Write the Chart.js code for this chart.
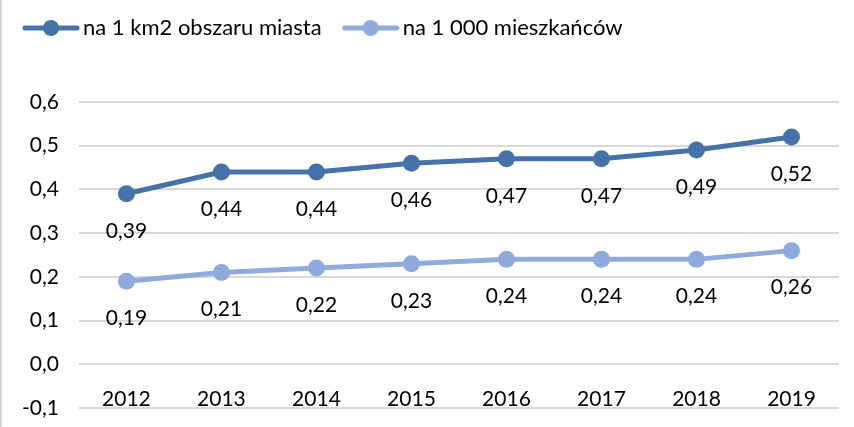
<!DOCTYPE html>
<html>
<head>
<meta charset="utf-8">
<script src="https://cdn.jsdelivr.net/npm/chart.js@4"></script>
<style>
  html, body { margin: 0; padding: 0; background: #fff; }
  #wrap { position: relative; width: 854px; height: 427px; border-left: 2px solid #d9d9d9; box-sizing: border-box; }
</style>
</head>
<body>
<div id="wrap"><canvas id="chart"></canvas></div>
<script>
const years = ['2012', '2013', '2014', '2015', '2016', '2017', '2018', '2019'];
const perKm2 = [0.39, 0.44, 0.44, 0.46, 0.47, 0.47, 0.49, 0.52];
const perThousand = [0.19, 0.21, 0.22, 0.23, 0.24, 0.24, 0.24, 0.26];
const seriesNames = ['na 1 km2 obszaru miasta', 'na 1 000 mieszkańców'];
const yTickLabels = ['-0,1', '0,0', '0,1', '0,2', '0,3', '0,4', '0,5', '0,6'];

const FONT = 'Lato';
const dark = '#4672aa';
const light = '#8faadc';

// legend marker: short thick line with a dot in the middle
function legendMarker(color) {
    const c = document.createElement('canvas');
    c.width = 58;
    c.height = 18;
    const ctx = c.getContext('2d');
    ctx.strokeStyle = color;
    ctx.lineWidth = 5;
    ctx.lineCap = 'round';
    ctx.beginPath();
    ctx.moveTo(3, 9);
    ctx.lineTo(55, 9);
    ctx.stroke();
    ctx.fillStyle = color;
    ctx.beginPath();
    ctx.arc(29, 9, 8, 0, Math.PI * 2);
    ctx.fill();
    return c;
}

const fmt = v => v.toFixed(2).replace('.', ',');

// value labels under every point
const valueLabels = {
    id: 'valueLabels',
    afterDatasetsDraw(chart) {
        const ctx = chart.ctx;
        ctx.save();
        ctx.font = '21px ' + FONT;
        ctx.fillStyle = '#000';
        ctx.textAlign = 'center';
        ctx.textBaseline = 'middle';
        chart.data.datasets.forEach((ds, i) => {
            chart.getDatasetMeta(i).data.forEach((pt, j) => {
                ctx.fillText(fmt(ds.data[j]), pt.x, pt.y + 37);
            });
        });
        ctx.restore();
    }
};

// extra room between legend and plot
const legendSpace = {
    id: 'legendSpace',
    beforeInit(chart) {
        const fit = chart.legend.fit;
        chart.legend.fit = function () {
            fit.bind(chart.legend)();
            this.height += 53;
        };
    }
};

new Chart(document.getElementById('chart'), {
    type: 'line',
    data: {
        labels: years,
        datasets: [{
            label: seriesNames[0],
            data: perKm2,
            borderColor: dark,
            backgroundColor: dark,
            borderWidth: 5,
            pointRadius: 8.5,
            pointBackgroundColor: dark,
            pointBorderWidth: 0
        }, {
            label: seriesNames[1],
            data: perThousand,
            borderColor: light,
            backgroundColor: light,
            borderWidth: 5,
            pointRadius: 8.5,
            pointBackgroundColor: light,
            pointBorderWidth: 0
        }]
    },
    options: {
        responsive: true,
        maintainAspectRatio: false,
        animation: false,
        layout: { padding: { top: -11, right: 15, left: 0, bottom: 0 } },
        plugins: {
            legend: {
                position: 'top',
                align: 'start',
                labels: {
                    font: { family: FONT, size: 22 },
                    color: '#000',
                    usePointStyle: true,
                    pointStyleWidth: 42,
                    padding: 28,
                    generateLabels(chart) {
                        return chart.data.datasets.map((ds, i) => ({
                            text: ds.label,
                            pointStyle: legendMarker(ds.borderColor),
                            fillStyle: ds.borderColor,
                            strokeStyle: ds.borderColor,
                            lineWidth: 0,
                            datasetIndex: i
                        }));
                    }
                }
            },
            tooltip: { enabled: false }
        },
        scales: {
            x: {
                position: { y: 0 },
                offset: true,
                grid: { display: false, drawTicks: false },
                border: { display: false },
                ticks: {
                    font: { family: FONT, size: 21 },
                    color: '#000',
                    padding: 22,
                    maxRotation: 0
                }
            },
            y: {
                min: -0.1,
                max: 0.6,
                grid: { color: '#d9d9d9', lineWidth: 2, drawTicks: false },
                border: { display: false },
                ticks: {
                    stepSize: 0.1,
                    font: { family: FONT, size: 21 },
                    color: '#000',
                    padding: 20,
                    callback: (v, i) => yTickLabels[i]
                },
                // tick padding would otherwise be added below the lowest gridline too
                afterFit(scale) {
                    scale.paddingBottom = 19;
                }
            }
        }
    },
    plugins: [valueLabels, legendSpace]
});
</script>
</body>
</html>
